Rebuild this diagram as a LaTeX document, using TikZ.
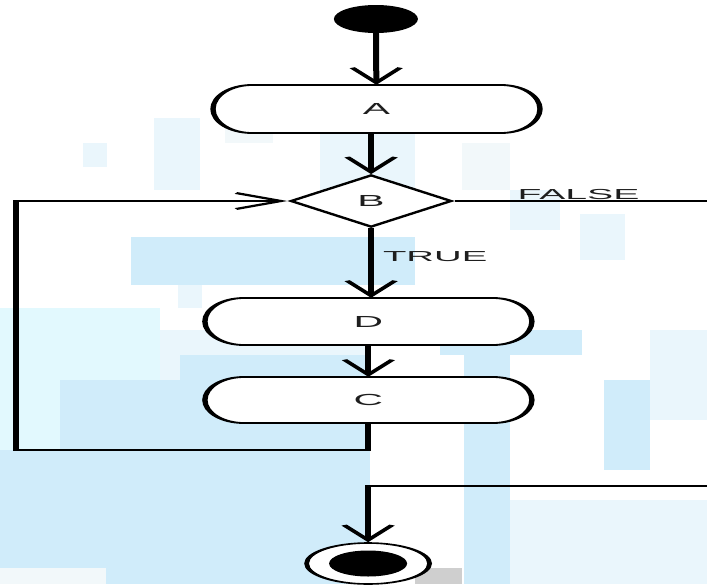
\documentclass[tikz,border=0pt]{standalone}
\usepackage{fontspec}
\setmainfont{Liberation Sans}
\usepackage{graphicx}
\usetikzlibrary{arrows.meta,shapes.geometric}
\definecolor{lbA}{RGB}{208,236,250}
\definecolor{lbB}{RGB}{226,249,254}
\definecolor{lbC}{RGB}{234,246,252}
\definecolor{lbD}{RGB}{242,248,250}
\definecolor{greyblk}{RGB}{207,207,207}
\definecolor{txtc}{RGB}{30,30,30}
\newcommand\stadbox[6]{%
  \draw[shapeline,fill=white] (#2-#4+13,#3+#5) -- (#2+#4-13,#3+#5)
    arc[start angle=90,end angle=-90,x radius=13,y radius=#5]
    -- (#2-#4+13,#3-#5)
    arc[start angle=270,end angle=90,x radius=13,y radius=#5] -- cycle;
  \node[boxtext,minimum width=2*#4,minimum height=2*#5] (#1) at (#2,#3) {\scalebox{0.85}[1]{#6}};}
\begin{document}
\begin{tikzpicture}[x=1pt,y=1pt]
\useasboundingbox (0,0) rectangle (707,-584);
\fill[white] (0,0) rectangle (707,-584);
% background mosaic (approximate)
\fill[lbC] (83,-143) rectangle (107,-167);
\fill[lbC] (154,-118) rectangle (200,-190);
\fill[lbD] (225,-118) rectangle (273,-143);
\fill[lbC] (320,-118) rectangle (415,-190);
\fill[lbD] (462,-143) rectangle (510,-190);
\fill[lbC] (510,-190) rectangle (560,-230);
\fill[lbC] (580,-214) rectangle (625,-260);
\fill[lbA] (131,-237) rectangle (415,-285);
\fill[lbC] (178,-285) rectangle (202,-308);
\fill[lbB] (0,-308) rectangle (160,-380);
\fill[lbC] (160,-330) rectangle (370,-380);
\fill[lbA] (180,-355) rectangle (370,-380);
\fill[lbA] (0,-380) rectangle (370,-584);
\fill[lbB] (0,-380) rectangle (60,-450);
\fill[lbD] (0,-568) rectangle (106,-584);
\fill[lbA] (440,-330) rectangle (582,-355);
\fill[lbA] (464,-355) rectangle (510,-584);
\fill[lbC] (510,-500) rectangle (707,-584);
\fill[lbA] (604,-380) rectangle (650,-470);
\fill[lbC] (650,-330) rectangle (707,-420);
\fill[greyblk] (415,-568) rectangle (462,-584);
\begin{scope}[transform canvas={xscale=3},
  shapeline/.style={line width=1.8pt},
  conn/.style={line width=2pt},
  flow/.style={conn,-{Straight Barb[length=15pt,width=16pt]}},
  boxtext/.style={rectangle,inner sep=0pt,text=txtc,font=\fontsize{16}{18}\selectfont},
  lbl/.style={inner sep=0pt,text=txtc,font=\fontsize{14.5}{16}\selectfont},
  startnode/.style={circle,fill=black,inner sep=0pt,minimum size=28pt},
  endnode/.style={circle,draw,fill=white,line width=1.6pt,inner sep=0pt,minimum size=41pt},
  endcore/.style={circle,fill=black,inner sep=0pt,minimum size=26pt},
  decision/.style={diamond,draw,fill=white,shapeline,inner sep=0pt,minimum width=54pt,minimum height=52pt,text=txtc,font=\fontsize{16}{18}\selectfont}]
  \node[startnode] (start) at (125.3,-19) {};
  \stadbox{A}{125.5}{-109}{54.5}{24}{A}
  \node[decision] (B) at (123.7,-201) {\scalebox{0.85}[1]{B}};
  \stadbox{D}{122.8}{-321.5}{54.5}{23.5}{D}
  \stadbox{C}{122.8}{-400}{54.5}{23}{C}
  \node[endnode] (end) at (122.7,-563.5) {};
  \node[endcore] (endc) at (end) {};
  \coordinate (loopL) at (5.33,-450);
  \coordinate (fR) at (235.7,-201);
  \coordinate (eR) at (235.7,-486);
  \draw[flow] (start) -- (A);
  \draw[flow] (A.south -| B.north) -- (B.north);
  \draw[flow] (B.south) -- (B.south |- D.north);
  \node[lbl,anchor=base west] (truelbl) at (127.5,-261) {\scalebox{0.88}[1]{TRUE}};
  \draw[flow] (D) -- (C);
  \draw[flow] (C.south) |- (loopL) |- (B.west);
  \draw[conn] (B.east) -- (fR);
  \node[lbl,anchor=base west] (falselbl) at (172.3,-199) {\scalebox{0.9}[1]{FALSE}};
  \draw[flow] (eR) -| (end);
\end{scope}
\end{tikzpicture}
\end{document}
